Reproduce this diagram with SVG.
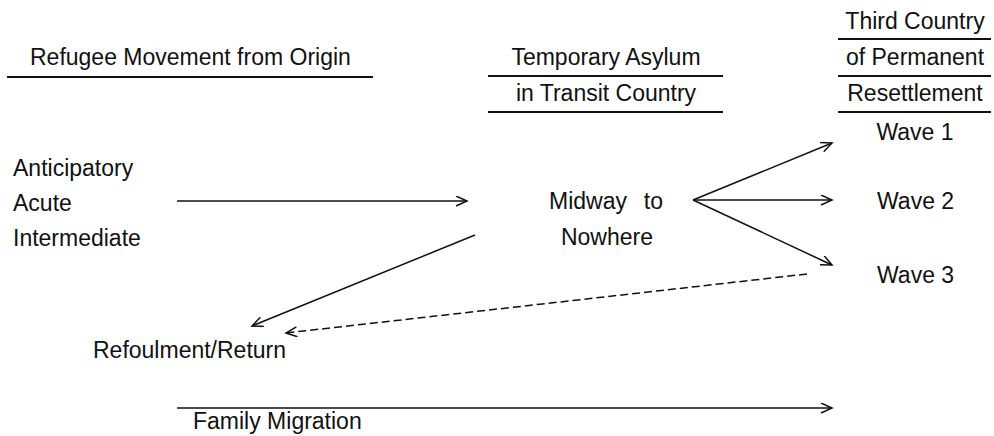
<svg xmlns="http://www.w3.org/2000/svg" width="994" height="436" viewBox="0 0 994 436">
<defs>
<style>
text{font-family:"Liberation Sans",Arial,sans-serif;font-size:23px;fill:#111}
.m{text-anchor:middle}
.rule{stroke:#111;stroke-width:2}
.c{stroke:#111;stroke-width:1.5;fill:none}
.d{stroke-dasharray:8 4}
</style>
<marker id="ah" markerWidth="14" markerHeight="12" refX="12" refY="5" orient="auto" markerUnits="userSpaceOnUse">
<path d="M1,0 L12,5 L1,10" fill="none" stroke="#111" stroke-width="1.5"/>
</marker>
</defs>
<rect width="994" height="436" fill="#fff"/>
<g id="header-origin">
<text x="30" y="65">Refugee Movement from Origin</text>
<line class="rule" x1="7" y1="77" x2="373" y2="77"/>
</g>
<g id="header-transit">
<text class="m" x="606" y="65">Temporary Asylum</text>
<line class="rule" x1="488" y1="76" x2="723" y2="76"/>
<text class="m" x="606" y="101">in Transit Country</text>
<line class="rule" x1="488" y1="112" x2="723" y2="112"/>
</g>
<g id="header-third">
<text class="m" x="915" y="29">Third Country</text>
<line class="rule" x1="838" y1="39" x2="991" y2="39"/>
<text class="m" x="915" y="65">of Permanent</text>
<line class="rule" x1="838" y1="76" x2="991" y2="76"/>
<text class="m" x="915" y="101">Resettlement</text>
<line class="rule" x1="838" y1="112" x2="991" y2="112"/>
</g>
<g id="origin-types">
<text x="13" y="176">Anticipatory</text>
<text x="13" y="211">Acute</text>
<text x="13" y="246">Intermediate</text>
</g>
<g id="midway">
<text x="549" y="209">Midway</text>
<text x="663" y="209" text-anchor="end">to</text>
<text class="m" x="607" y="245">Nowhere</text>
</g>
<g id="wave1"><text class="m" x="915" y="140">Wave 1</text></g>
<g id="wave2"><text x="877" y="209">Wave 2</text></g>
<g id="wave3"><text x="877" y="283">Wave 3</text></g>
<g id="refoulment"><text x="93" y="358">Refoulment/Return</text></g>
<g id="family"><text x="193" y="429">Family Migration</text></g>
<g id="connectors">
<line class="c" x1="177" y1="201" x2="467" y2="201" marker-end="url(#ah)"/>
<line class="c" x1="693" y1="200" x2="832" y2="143" marker-end="url(#ah)"/>
<line class="c" x1="693" y1="200" x2="832" y2="200" marker-end="url(#ah)"/>
<line class="c" x1="693" y1="200" x2="832" y2="265" marker-end="url(#ah)"/>
<line class="c" x1="475" y1="235" x2="252" y2="326" marker-end="url(#ah)"/>
<line class="c d" x1="807" y1="274" x2="286" y2="333" marker-end="url(#ah)"/>
<line class="c" x1="177" y1="408" x2="832" y2="408" marker-end="url(#ah)"/>
</g>
</svg>
